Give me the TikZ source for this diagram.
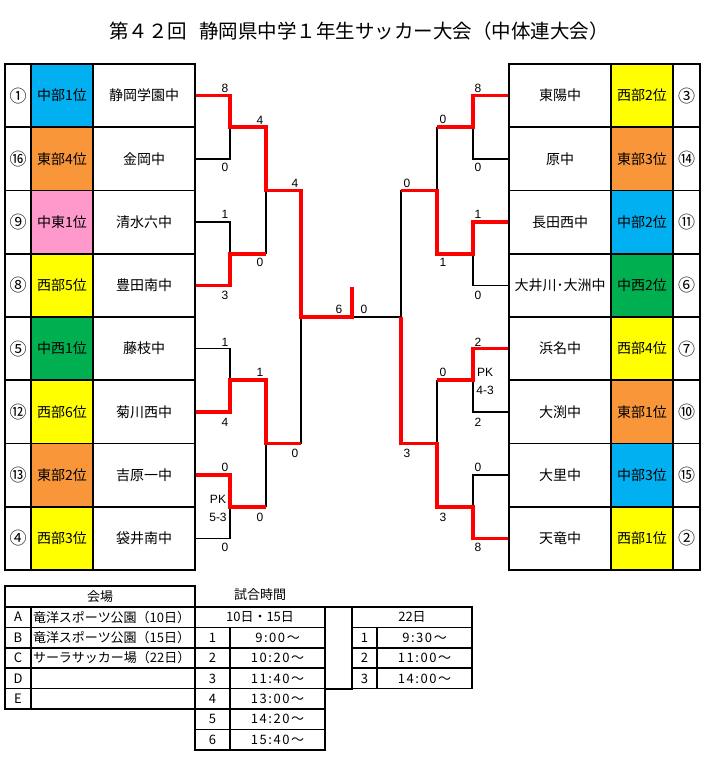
\documentclass[tikz,border=0pt]{standalone}
\usepackage{fontspec}
\setmainfont{Noto Sans CJK JP}
\newfontfamily\scorefont{Liberation Sans}
\definecolor{cblue}{RGB}{0,176,240}
\definecolor{corange}{RGB}{249,150,58}
\definecolor{cpink}{RGB}{255,153,204}
\definecolor{cyellow}{RGB}{255,255,0}
\definecolor{cgreen}{RGB}{0,176,80}
\definecolor{bred}{RGB}{255,0,0}
\begin{document}
\begin{tikzpicture}[x=1pt,y=-1pt,
  cell/.style={draw, line width=1.6pt, inner sep=0pt, minimum height=63.25pt, font=\fontsize{14}{15}\selectfont},
  tcell/.style={draw, line width=1.5pt, inner sep=0pt, minimum height=20.4pt, font=\fontsize{13}{14}\selectfont},
  bline/.style={line width=1.4pt, draw=black},
  rline/.style={line width=3.6pt, draw=bred},
  score/.style={inner sep=0pt, font=\scorefont\fontsize{12}{12}\selectfont},
  ttext/.style={font=\fontsize{13}{14}\selectfont\addfontfeature{LetterSpace=12}}]
\useasboundingbox (0,0) rectangle (710,761);
\fill[white] (0,0) rectangle (710,761);

% title
\node[inner sep=0pt, font=\fontsize{19.5}{21}\selectfont] (title) at (359,31) {第４２回\hspace{0.6em}静岡県中学１年生サッカー大会（中体連大会）};

% left teams
\foreach \nn/\lab/\col/\sch [count=\i] in {①/中部1位/cblue/静岡学園中, ⑯/東部4位/corange/金岡中, ⑨/中東1位/cpink/清水六中, ⑧/西部5位/cyellow/豊田南中, ⑤/中西1位/cgreen/藤枝中, ⑫/西部6位/cyellow/菊川西中, ⑬/東部2位/corange/吉原一中, ④/西部3位/cyellow/袋井南中}{
  \pgfmathsetmacro{\yy}{64+(\i-0.5)*63.25}
  \node[cell, minimum width=26pt] (Ln\i) at (18,\yy) {\fontsize{17}{18}\selectfont\nn};
  \node[cell, fill=\col, minimum width=62pt] (Lc\i) at (62,\yy) {\lab};
  \node[cell, minimum width=102pt] (Ls\i) at (144,\yy) {\sch};
}
% right teams
\foreach \sch/\lab/\col/\nn [count=\i] in {東陽中/西部2位/cyellow/③, 原中/東部3位/corange/⑭, 長田西中/中部2位/cblue/⑪, 大井川･大洲中/中西2位/cgreen/⑥, 浜名中/西部4位/cyellow/⑦, 大渕中/東部1位/corange/⑩, 大里中/中部3位/cblue/⑮, 天竜中/西部1位/cyellow/②}{
  \pgfmathsetmacro{\yy}{64+(\i-0.5)*63.25}
  \node[cell, minimum width=102pt] (Rs\i) at (560,\yy) {\sch};
  \node[cell, fill=\col, minimum width=62pt] (Rc\i) at (642,\yy) {\lab};
  \node[cell, minimum width=27pt] (Rn\i) at (686.5,\yy) {\fontsize{17}{18}\selectfont\nn};
}

% bracket junctions
\coordinate (lm1) at (230,127.25);
\coordinate (lm2) at (230,253.75);
\coordinate (lm3) at (230,380.25);
\coordinate (lm4) at (230,506.75);
\coordinate (ln1) at (266,190.5);
\coordinate (ln2) at (266,443.5);
\coordinate (lsf) at (301,317);
\coordinate (ftop) at (352,287);
\coordinate (rsf) at (401,317);
\coordinate (rn1) at (437,190.5);
\coordinate (rn2) at (437,443.5);
\coordinate (rm1) at (473,127.25);
\coordinate (rm2) at (473,253.75);
\coordinate (rm3) at (473,380.25);
\coordinate (rm4) at (473,506.75);

% black bracket
\foreach \a/\m in {1/lm1,2/lm1,3/lm2,4/lm2,5/lm3,6/lm3,7/lm4,8/lm4}
  \draw[bline] (Ls\a.east) -| (\m);
\foreach \a/\m in {1/rm1,2/rm1,3/rm2,4/rm2,5/rm3,6/rm3,7/rm4,8/rm4}
  \draw[bline] (Rs\a.west) -| (\m);
\draw[bline] (lm1) -| (ln1) (lm2) -| (ln1) (lm3) -| (ln2) (lm4) -| (ln2)
  (ln1) -| (lsf) (ln2) -| (lsf) (lsf) -- (rsf);
\draw[bline] (rm1) -| (rn1) (rm2) -| (rn1) (rm3) -| (rn2) (rm4) -| (rn2)
  (rn1) -| (rsf) (rn2) -| (rsf);

% red winner paths
\draw[rline] (Ls1.east) -| (lm1) -| (ln1) -| (lsf) -| (ftop);
\draw[rline] (Ls4.east) -| (lm2) -- (lm2 -| ln1);
\draw[rline] (Ls6.east) -| (lm3) -| (ln2) -- (ln2 -| lsf);
\draw[rline] (Ls7.east) -| (lm4) -- (lm4 -| ln2);
\draw[rline] (Rs1.west) -| (rm1) -- (rm1 -| rn1);
\draw[rline] (Rs3.west) -| (rm2) -| (rn1) -- (rn1 -| rsf);
\draw[rline] (Rs5.west) -| (rm3) -- (rm3 -| rn2);
\draw[rline] (Rs8.west) -| (rm4) -| (rn2) -| (rsf);

% scores
\foreach \x/\y/\t [count=\k] in {225/88/8, 225/167/0, 260/120/4, 295/183/4, 225/214/1, 225/295/3, 260/262/0,
  225/342/1, 225/422/4, 260/372/1, 295/453/0, 225/467/0, 225/547/0, 260/517/0,
  339/309/6, 364/309/0,
  478/88/8, 478/167/0, 443/119/0, 407/183/0, 478/214/1, 478/295/0, 443/262/1,
  478/342/2, 478/422/2, 443/372/0, 407/453/3, 478/467/0, 443/517/3, 478/547/8}
  \node[score] (sc\k) at (\x,\y) {\t};
\node[score] (pkl) at (218,499) {PK};
\node[score] (pkls) at (218,517) {5-3};
\node[score] (pkr) at (485,372) {PK};
\node[score] (pkrs) at (485,390) {4-3};

% venue table
\node[tcell, minimum width=190pt, minimum height=21pt] (vh) at (100,596.5) {会場};
\foreach \l/\v [count=\i] in {A/竜洋スポーツ公園（10日）, B/竜洋スポーツ公園（15日）, C/サーラサッカー場（22日）, D/, E/}{
  \pgfmathsetmacro{\yy}{607+(\i-0.5)*20.4}
  \node[tcell, minimum width=26pt] (vl\i) at (18,\yy) {\l};
  \node[tcell, text width=160pt, inner xsep=2pt, align=left] (vn\i) at (113,\yy) {\v};
}
% time header
\node[inner sep=0pt, font=\fontsize{13}{14}\selectfont] (th) at (260,595) {試合時間};
% 10/15 table
\node[tcell, minimum width=130pt] (ah) at (260,617.2) {10日・15日};
\foreach \t [count=\i] in {9:00～, 10:20～, 11:40～, 13:00～, 14:20～, 15:40～}{
  \pgfmathsetmacro{\yy}{627.4+(\i-0.5)*20.4}
  \node[tcell, minimum width=35pt] (an\i) at (212.5,\yy) {\i};
  \node[tcell, minimum width=95pt, ttext] (at\i) at (277.5,\yy) {\t};
}
\node[tcell, minimum width=27pt, minimum height=81.6pt] (gap) at (338.5,648) {};
% 22 table
\node[tcell, minimum width=120pt] (bh) at (412,617.2) {22日};
\foreach \t [count=\i] in {9:30～, 11:00～, 14:00～}{
  \pgfmathsetmacro{\yy}{627.4+(\i-0.5)*20.4}
  \node[tcell, minimum width=25pt] (bn\i) at (364.5,\yy) {\i};
  \node[tcell, minimum width=95pt, ttext] (bt\i) at (424.5,\yy) {\t};
}
\end{tikzpicture}
\end{document}
